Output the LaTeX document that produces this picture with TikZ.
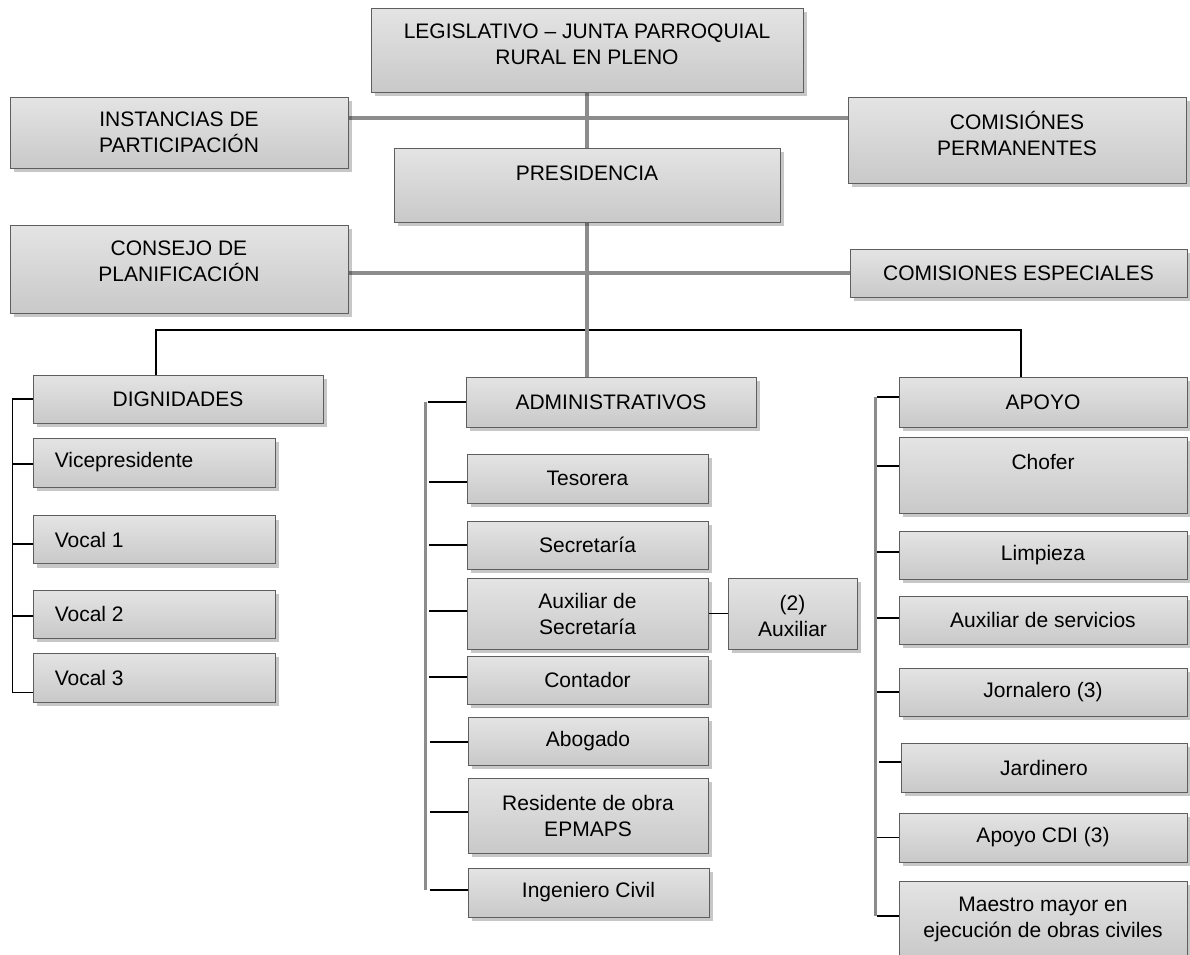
\documentclass[tikz,border=0pt]{standalone}
\usepackage{fontspec}
\setmainfont{Liberation Sans}
\usetikzlibrary{shadows,backgrounds}
\definecolor{boxtop}{HTML}{E4E4E4}
\definecolor{boxbot}{HTML}{C9C9C9}
\definecolor{boxedge}{HTML}{5E5E5E}
\definecolor{linegray}{HTML}{8C8C8C}
\newcommand{\orgfont}{\fontsize{21}{26}\selectfont}

\begin{document}
\begin{tikzpicture}[x=1pt, y=-1pt,
    box/.style={draw=boxedge, line width=0.9pt, top color=boxtop, bottom color=boxbot, inner sep=0pt,
      drop shadow={shadow xshift=4pt, shadow yshift=-4pt, fill=black, opacity=0.22}},
    every label/.style={font=\orgfont, align=center, inner sep=0pt},
    tag/.style={label={[anchor=west, xshift=22pt]west:#1}},
    gline/.style={draw=linegray, line width=3.5pt},
    bline/.style={draw=black, line width=1.4pt},
  ]
  \useasboundingbox (0,0) rectangle (1190,954);

  \node[box, minimum width=432pt, minimum height=84pt, label={[yshift=5.5pt]center:{LEGISLATIVO – JUNTA PARROQUIAL\\RURAL EN PLENO}}] (leg) at (587,50) {};
  \node[box, minimum width=338pt, minimum height=71pt, label={center:{INSTANCIAS DE\\PARTICIPACIÓN}}] (inst) at (179,132.5) {};
  \node[box, minimum width=338pt, minimum height=86pt, label={[yshift=7pt]center:{COMISIÓNES\\PERMANENTES}}] (comp) at (1017,140) {};
  \node[box, minimum width=386pt, minimum height=74pt, label={[yshift=12pt]center:PRESIDENCIA}] (pres) at (587,185) {};
  \node[box, minimum width=338pt, minimum height=88pt, label={[yshift=7.5pt]center:{CONSEJO DE\\PLANIFICACIÓN}}] (cons) at (179,269) {};
  \node[box, minimum width=337pt, minimum height=48pt, label={center:COMISIONES ESPECIALES}] (cesp) at (1018.5,273) {};

  \node[box, minimum width=290pt, minimum height=48pt, label={center:DIGNIDADES}] (dign) at (178,399) {};
  \node[box, minimum width=242pt, minimum height=49pt, tag=Vicepresidente] (vice) at (154,462.5) {};
  \node[box, minimum width=242pt, minimum height=48pt, tag=Vocal 1] (voc1) at (154,539.5) {};
  \node[box, minimum width=242pt, minimum height=48pt, tag=Vocal 2] (voc2) at (154,614) {};
  \node[box, minimum width=242pt, minimum height=49pt, tag=Vocal 3] (voc3) at (154,677.5) {};

  \node[box, minimum width=290pt, minimum height=50pt, label={center:ADMINISTRATIVOS}] (adm) at (611,402) {};
  \node[box, minimum width=241pt, minimum height=49pt, label={center:Tesorera}] (teso) at (587.5,478.5) {};
  \node[box, minimum width=241pt, minimum height=48pt, label={center:Secretaría}] (secr) at (587.5,545) {};
  \node[box, minimum width=241pt, minimum height=71pt, label={center:{Auxiliar de\\Secretaría}}] (auxs) at (587.5,613.5) {};
  \node[box, minimum width=129pt, minimum height=71pt, label={[yshift=-2pt]center:{(2)\\Auxiliar}}] (aux2) at (792.5,613.5) {};
  \node[box, minimum width=241pt, minimum height=48pt, label={center:Contador}] (cont) at (587.5,680) {};
  \node[box, minimum width=240pt, minimum height=48pt, label={center:Abogado}] (abog) at (588,741) {};
  \node[box, minimum width=240pt, minimum height=75pt, label={center:{Residente de obra\\EPMAPS}}] (resid) at (588,815.5) {};
  \node[box, minimum width=241pt, minimum height=49pt, label={center:Ingeniero Civil}] (ing) at (588.5,892.5) {};

  \node[box, minimum width=288pt, minimum height=50pt, label={center:APOYO}] (apoyo) at (1043,402) {};
  \node[box, minimum width=288pt, minimum height=76pt, label={[yshift=13pt]center:Chofer}] (chof) at (1043,475) {};
  \node[box, minimum width=288pt, minimum height=48pt, label={center:Limpieza}] (limp) at (1043,555) {};
  \node[box, minimum width=288pt, minimum height=48pt, label={center:Auxiliar de servicios}] (auxserv) at (1043,620) {};
  \node[box, minimum width=288pt, minimum height=48pt, label={center:Jornalero (3)}] (jorn) at (1043,692) {};
  \node[box, minimum width=286pt, minimum height=49pt, label={center:Jardinero}] (jard) at (1044,767.5) {};
  \node[box, minimum width=288pt, minimum height=49pt, label={center:Apoyo CDI (3)}] (cdi) at (1043,837.5) {};
  \node[box, minimum width=288pt, minimum height=77pt, label={center:{Maestro mayor en\\ejecución de obras civiles}}] (maes) at (1043,919.5) {};

  \begin{scope}[on background layer]
    \coordinate (r1) at (0,118);
    \coordinate (r2) at (0,273);
    \coordinate (r3) at (0,330);

    \draw[bline] ([xshift=-22pt]dign.north) |- (leg.south |- r3) -| ([xshift=-22pt]apoyo.north);
    \draw[gline] (leg.south) -- ([xshift=-24pt]adm.north);
    \draw[gline] (inst.east |- r1) -- (comp.west |- r1);
    \draw[gline] (cons.east |- r2) -- (cesp.west |- r2);

    \draw[bline] (dign.west) -- ++(-20,0) |- ([yshift=-15pt]voc3.west);
    \foreach \n/\dy in {vice/-1.5, voc1/-4.5, voc2/-2}
      \draw[bline] ([yshift=\dy pt]\n.west) -- ++(-20,0);

    \draw[gline, line width=3pt] ([xshift=-40pt]adm.west) -- ([xshift=-42pt, yshift=2.5pt]ing.west);
    \foreach \n/\dy in {adm/0, teso/-3.5, secr/0, auxs/2.5, cont/3, abog/-1, resid/3.5, ing/2.5}
      \draw[bline] ([yshift=\dy pt]\n.west) -- ++(-38,0);
    \draw[bline] (auxs.east) -- (aux2.west);

    \draw[gline, line width=3pt] ([xshift=-23pt, yshift=5pt]apoyo.west) -- ([xshift=-23pt, yshift=3.5pt]maes.west);
    \foreach \n/\dy in {apoyo/5, chof/9, limp/3, auxserv/2, jorn/0, jard/5.5, cdi/0, maes/3.5}
      \draw[bline] ([yshift=\dy pt]\n.west) -- ++(-22,0);
  \end{scope}
\end{tikzpicture}
\end{document}
